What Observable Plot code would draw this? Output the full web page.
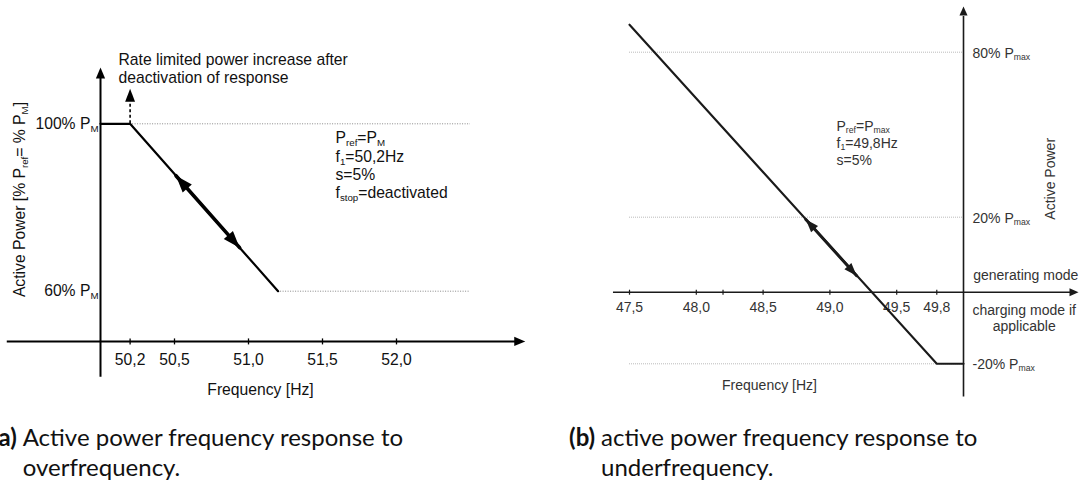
<!DOCTYPE html>
<html><head><meta charset="utf-8">
<script src="https://cdn.jsdelivr.net/npm/d3@7"></script>
<script src="https://cdn.jsdelivr.net/npm/@observablehq/plot@0.6"></script>
<style>
body{margin:0;background:#fff;}
#wrap{position:relative;width:1081px;height:484px;overflow:hidden;background:#fff;}
#pa{position:absolute;left:0;top:0;}
#pb{position:absolute;left:540px;top:0;}
.cap{position:absolute;font-family:Lato,"Noto Sans",sans-serif;font-size:24px;color:#111;line-height:30px;white-space:nowrap;}
.pre{position:absolute;right:100%;top:0;font-weight:bold;}
</style></head><body>
<div id="wrap">
<div id="pa"></div><div id="pb"></div>
<div class="cap" style="left:22.7px;top:421.7px;"><span class="pre">(a)&nbsp;</span>Active power frequency response to</div>
<div class="cap" style="left:22.7px;top:451.7px;">overfrequency.</div>
<div class="cap" style="left:601px;top:421.7px;"><span class="pre">(b)&nbsp;</span>active power frequency response to</div>
<div class="cap" style="left:601px;top:451.7px;">underfrequency.</div>
</div>
<script>
// ---------- Panel (a): overfrequency ----------
const ticksA = [50.2, 50.5, 51.0, 51.5, 52.0];
const tickLabelsA = ["50,2", "50,5", "51,0", "51,5", "52,0"];
const responseFreqA = [50.0, 50.2, 51.2];
const responsePowerA = [100, 100, 60];
const gridLevelsA = [100, 60];
const gridStartA = [50.2, 51.2];
const gridLabelsA = ["100% P_{M}", "60% P_{M}"];
const arrowFreqA = [50.51, 50.94];
const arrowPowerA = [87.6, 70.4];
const annotA = ["Rate limited power increase after", "deactivation of response"];
const paramsA = ["P_{ref}=P_{M}", "f_{1}=50,2Hz", "s=5%", "f_{stop}=deactivated"];

// ---------- Panel (b): underfrequency ----------
const ticksB = [47.5, 48.0, 48.2, 48.5, 49.0, 49.5, 49.8];
const tickLabelsB = ["47,5", "48,0", "", "48,5", "49,0", "49,5", "49,8"];
const responseFreqB = [47.5, 49.8, 50.0];
const responsePowerB = [90, -20, -20];
const gridLevelsB = [80, 20, -20];
const gridLabelsB = ["80% P_{max}", "20% P_{max}", "-20% P_{max}"];
const arrowFreqB = [48.82, 49.20];
const arrowPowerB = [19.4, 4.4];
const paramsB = ["P_{ref}=P_{max}", "f_{1}=49,8Hz", "s=5%"];

// ---------- helpers ----------
function headSymbol(ratio) {
  return {draw(ctx, size) {
    const L = Math.sqrt(size / Math.PI), w = L * ratio;
    ctx.moveTo(0, 0); ctx.lineTo(w, L); ctx.lineTo(-w, L); ctx.closePath();
  }};
}
const tickSymbol = {draw(ctx, size) {
  const L = Math.sqrt(size / Math.PI);
  ctx.moveTo(0, -L); ctx.lineTo(0, L);
}};
function angle(sx, sy, f1, p1, f2, p2) { // direction from point1 to point2, degrees clockwise from up
  const dx = sx(f2) - sx(f1), dy = sy(p2) - sy(p1);
  return Math.atan2(dx, -dy) * 180 / Math.PI;
}
function applySubscripts(svg, shift) {
  svg.querySelectorAll("text, tspan").forEach(el => {
    for (const node of Array.from(el.childNodes)) {
      if (node.nodeType === 3 && node.nodeValue.includes("_{")) {
        const parts = node.nodeValue.split(/_\{([^}]*)\}/);
        const frag = document.createDocumentFragment();
        parts.forEach((p, i) => {
          if (!p) return;
          if (i % 2 === 0) frag.appendChild(document.createTextNode(p));
          else {
            const t = document.createElementNS("http://www.w3.org/2000/svg", "tspan");
            t.setAttribute("baseline-shift", String(-shift));
            t.style.fontSize = "62%";
            t.textContent = p;
            frag.appendChild(t);
          }
        });
        el.replaceChild(frag, node);
      }
    }
  });
}

// ---------- Plot (a) ----------
{
  const W = 540, H = 400;
  const xDom = [49.3243, 52.973], yDom = [33.883, 129.462];
  const sx = d3.scaleLinear(xDom, [0, W]), sy = d3.scaleLinear(yDom, [H, 0]);
  const line = responseFreqA.map((f, i) => ({f, p: responsePowerA[i]}));
  const grid = gridLevelsA.map((v, i) => ({v, x1: gridStartA[i], x2: 52.5, label: gridLabelsA[i]}));
  const ticks = ticksA.map((t, i) => ({t, label: tickLabelsA[i]}));
  const seg = arrowFreqA.map((f, i) => ({f, p: arrowPowerA[i]}));
  const heads = [
    {f: arrowFreqA[0], p: arrowPowerA[0], a: angle(sx, sy, arrowFreqA[1], arrowPowerA[1], arrowFreqA[0], arrowPowerA[0])},
    {f: arrowFreqA[1], p: arrowPowerA[1], a: angle(sx, sy, arrowFreqA[0], arrowPowerA[0], arrowFreqA[1], arrowPowerA[1])}
  ];
  const axisY = 48.0;
  const chart = Plot.plot({
    width: W, height: H, margin: 0,
    x: {domain: xDom, axis: null}, y: {domain: yDom, axis: null},
    style: {fontFamily: "'Liberation Sans', Arial, sans-serif", fontSize: "15.7px", color: "#000", background: "transparent"},
    marks: [
      Plot.ruleY(grid, {y: "v", x1: "x1", x2: "x2", stroke: "#888", strokeWidth: 1, strokeDasharray: "1,1.5"}),
      Plot.ruleY([axisY], {x1: 49.37, x2: 52.82, stroke: "#000", strokeWidth: 2}),
      Plot.ruleX([50], {y1: 39.45, y2: 111.5, stroke: "#000", strokeWidth: 2}),
      Plot.dot(ticks, {x: "t", y: () => axisY, symbol: tickSymbol, r: 3, stroke: "#000", strokeWidth: 1.3}),
      Plot.dot([{f: 52.87, p: axisY}], {x: "f", y: "p", symbol: headSymbol(0.42), r: 11, fill: "#000", rotate: 90}),
      Plot.dot([{f: 50, p: 113.45}], {x: "f", y: "p", symbol: headSymbol(0.42), r: 11, fill: "#000", rotate: 0}),
      Plot.ruleX([50.2], {y1: 100, y2: 105.2, stroke: "#000", strokeWidth: 1.6, strokeDasharray: "3,2.5"}),
      Plot.dot([{f: 50.2, p: 108.4}], {x: "f", y: "p", symbol: headSymbol(0.38), r: 13, fill: "#000", rotate: 0}),
      Plot.line(line, {x: "f", y: "p", stroke: "#000", strokeWidth: 2.2}),
      Plot.line(seg, {x: "f", y: "p", stroke: "#000", strokeWidth: 3.6}),
      Plot.dot(heads, {x: "f", y: "p", symbol: headSymbol(0.36), r: 17, fill: "#000", rotate: "a"}),
      Plot.text(grid, {x: () => 50, y: "v", text: "label", textAnchor: "end", dx: -2, fill: "#111"}),
      Plot.text(ticks, {x: "t", y: () => axisY, text: "label", dy: 19, fill: "#111"}),
      Plot.text(["Frequency [Hz]"], {x: 51.081, y: 36.51, text: d => d, fill: "#111"}),
      Plot.text(["Active Power [% P_{ref}= % P_{M}]"], {x: 49.459, y: 81.9, text: d => d, rotate: -90, fill: "#111"}),
      Plot.text([annotA.join("\n")], {x: 50.1216, y: 113.2, text: d => d, textAnchor: "start", lineHeight: 1.108, fill: "#111"}),
      Plot.text([paramsA.join("\n")], {x: 51.588, y: 90.2, text: d => d, textAnchor: "start", lineHeight: 1.166, fill: "#111"})
    ]
  });
  applySubscripts(chart, 2.8);
  document.getElementById("pa").appendChild(chart);
}

// ---------- Plot (b) ----------
{
  const W = 541, H = 400;
  const xDom = [46.8338, 50.8832];
  const yDom = [-20, 0, 20, 80], yRange = [363.3, 291.7, 216.7, 51.7];
  const sx = d3.scaleLinear(xDom, [0, W]), sy = d3.scaleLinear(yDom, yRange);
  const line = responseFreqB.map((f, i) => ({f, p: responsePowerB[i]}));
  const grid = gridLevelsB.map((v, i) => ({v, label: gridLabelsB[i]}));
  const ticks = ticksB.map((t, i) => ({t, label: tickLabelsB[i]}));
  const seg = arrowFreqB.map((f, i) => ({f, p: arrowPowerB[i]}));
  const heads = [
    {f: arrowFreqB[0], p: arrowPowerB[0], a: angle(sx, sy, arrowFreqB[1], arrowPowerB[1], arrowFreqB[0], arrowPowerB[0])},
    {f: arrowFreqB[1], p: arrowPowerB[1], a: angle(sx, sy, arrowFreqB[0], arrowPowerB[0], arrowFreqB[1], arrowPowerB[1])}
  ];
  const ink = "#1a1a1a", txt = "#333";
  const chart = Plot.plot({
    width: W, height: H, margin: 0,
    x: {domain: xDom, axis: null}, y: {type: "linear", domain: yDom, range: yRange, axis: null},
    style: {fontFamily: "'Liberation Sans', Arial, sans-serif", fontSize: "14px", color: txt, background: "transparent"},
    marks: [
      Plot.ruleY(grid, {y: "v", x1: 47.5, x2: 50, stroke: "#bbb", strokeWidth: 1, strokeDasharray: "1,1"}),
      Plot.ruleY([0], {x1: 47.38, x2: 50.82, stroke: ink, strokeWidth: 1.6}),
      Plot.ruleX([50], {y1: -29.3, y2: 93, stroke: ink, strokeWidth: 1.6}),
      Plot.dot(ticks, {x: "t", y: () => 0, symbol: tickSymbol, r: 2.5, stroke: ink, strokeWidth: 1.2}),
      Plot.dot([{f: 50.8608, p: 0}], {x: "f", y: "p", symbol: headSymbol(0.45), r: 9, fill: ink, rotate: 90}),
      Plot.dot([{f: 50, p: 96.6}], {x: "f", y: "p", symbol: headSymbol(0.45), r: 9, fill: ink, rotate: 0}),
      Plot.text(ticks, {x: "t", y: () => 0, text: "label", dy: 15.6, fill: txt}),
      Plot.line(line, {x: "f", y: "p", stroke: ink, strokeWidth: 2.1}),
      Plot.line(seg, {x: "f", y: "p", stroke: ink, strokeWidth: 3}),
      Plot.dot(heads, {x: "f", y: "p", symbol: headSymbol(0.36), r: 13, fill: ink, rotate: "a"}),
      Plot.text(grid, {x: () => 50, y: "v", text: "label", textAnchor: "start", dx: 9, dy: 1, fill: txt}),
      Plot.text(["generating mode"], {x: 50.0726, y: 4.45, text: d => d, textAnchor: "start", fill: txt}),
      Plot.text(["charging mode if\napplicable"], {x: 50.4543, y: -7.12, text: d => d, lineHeight: 1.12, fill: txt}),
      Plot.text(["Active Power"], {x: 50.651, y: 33.96, text: d => d, rotate: -90, fill: txt}),
      Plot.text(["Frequency [Hz]"], {x: 48.548, y: -26.06, text: d => d, fill: txt}),
      Plot.text([paramsB.join("\n")], {x: 49.0494, y: 47.16, text: d => d, textAnchor: "start", lineHeight: 1.214, fill: txt})
    ]
  });
  applySubscripts(chart, 2.4);
  document.getElementById("pb").appendChild(chart);
}
</script>
</body></html>
